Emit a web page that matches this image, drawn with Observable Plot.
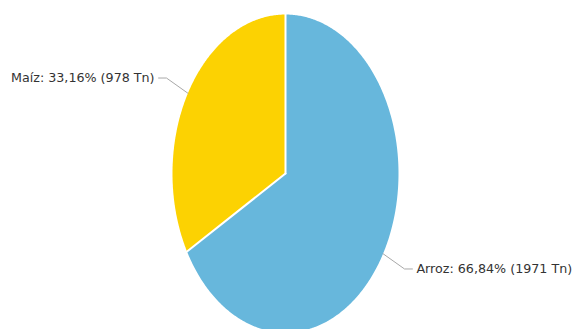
<!DOCTYPE html>
<html>
<head>
<meta charset="utf-8">
<script src="https://cdn.jsdelivr.net/npm/d3@7"></script>
<script src="https://cdn.jsdelivr.net/npm/@observablehq/plot@0.6"></script>
<style>
  html, body { margin: 0; padding: 0; background: #fff; }
  #chart svg { display: block; }
</style>
</head>
<body>
<div id="chart"></div>
<script>
const categories = ["Arroz", "Maíz"];
const values = [1971, 978];
const unit = "Tn";
const colors = ["#67B7DC", "#FCD202"];

const total = d3.sum(values);
const arcs = d3.pie().sort(null).value(d => d)(values);

// slice outlines in unit-circle coordinates (stretched to an ellipse by the x/y scales)
const slicePts = [];
const edgePts = [];
arcs.forEach((a, i) => {
  const name = categories[i];
  slicePts.push({name, x: 0, y: 0});
  const n = Math.max(2, Math.ceil((a.endAngle - a.startAngle) / 0.01));
  for (let k = 0; k <= n; k++) {
    const t = a.startAngle + (a.endAngle - a.startAngle) * k / n;
    slicePts.push({name, x: Math.sin(t), y: -Math.cos(t)});
  }
  slicePts.push({name, x: 0, y: 0});
  // white separator along the slice's starting radius
  edgePts.push({name, x: 0, y: 0}, {name, x: Math.sin(a.startAngle), y: -Math.cos(a.startAngle)});
});

// leader lines and labels
const leaderPts = [];
const labels = [];
arcs.forEach((a, i) => {
  const name = categories[i];
  const mid = (a.startAngle + a.endAngle) / 2;
  const s = Math.sin(mid), c = -Math.cos(mid);
  const side = s >= 0 ? 1 : -1;
  const ex = 1.22 * s, ey = 1.19 * c;
  const tx = ex + side * 0.07;
  leaderPts.push({name, x: s, y: c}, {name, x: ex, y: ey}, {name, x: tx, y: ey});
  const pct = (values[i] / total * 100).toFixed(2).replace(".", ",");
  labels.push({name, x: tx, y: ey, side, text: `${name}: ${pct}% (${values[i]} ${unit})`});
});

const chart = Plot.plot({
  width: 574,
  height: 329,
  margin: 0,
  style: {background: "#fff"},
  x: {domain: [-1, 1], range: [172, 398], axis: null},
  y: {domain: [-1, 1], range: [14, 332], axis: null},
  color: {domain: categories, range: colors},
  marks: [
    Plot.line(slicePts, {x: "x", y: "y", z: "name", fill: "name", stroke: null, curve: "linear"}),
    Plot.line(edgePts, {x: "x", y: "y", z: "name", stroke: "#fff", strokeWidth: 2, curve: "linear"}),
    Plot.line(leaderPts, {x: "x", y: "y", z: "name", stroke: "#a8a8a8", strokeWidth: 1, curve: "linear"}),
    Plot.text(labels.filter(d => d.side < 0), {x: "x", y: "y", text: "text", textAnchor: "end", dx: -4, fill: "#333", fontSize: 12.7, fontFamily: "DejaVu Sans"}),
    Plot.text(labels.filter(d => d.side > 0), {x: "x", y: "y", text: "text", textAnchor: "start", dx: 4, fill: "#333", fontSize: 12.7, fontFamily: "DejaVu Sans"})
  ]
});
document.getElementById("chart").appendChild(chart);
</script>
</body>
</html>
